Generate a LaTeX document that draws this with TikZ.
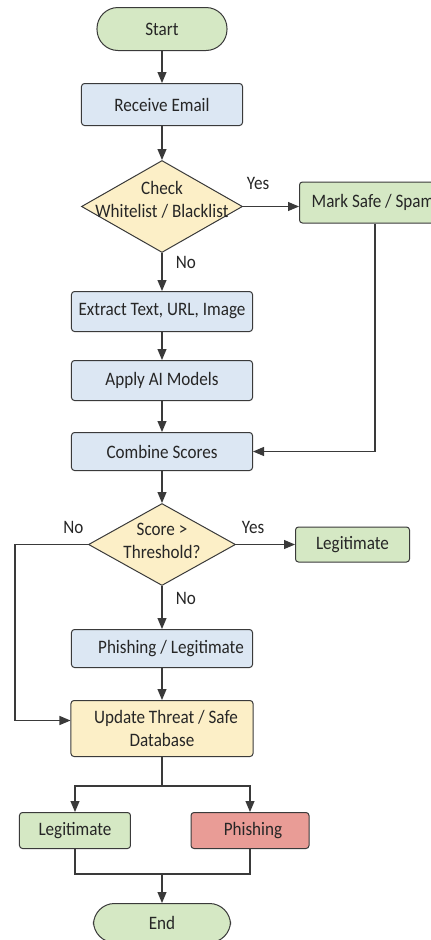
\documentclass[tikz,border=0pt]{standalone}
\usepackage{fontspec}
\setmainfont{Carlito}[FakeStretch=0.9]
\usetikzlibrary{positioning,shapes.geometric,arrows.meta}
\definecolor{termgreen}{HTML}{D5E8C4}
\definecolor{procblue}{HTML}{DCE7F3}
\definecolor{checkyellow}{HTML}{FCEFC7}
\definecolor{alertred}{HTML}{E99C96}
\definecolor{edgegray}{HTML}{3A3A3A}
\begin{document}
\begin{tikzpicture}[font=\fontsize{19}{23}\selectfont,
  box/.style={draw=edgegray, line width=1pt, rounded corners=3pt, minimum height=40pt, text=black!85, align=center},
  process/.style={box, fill=procblue, minimum width=181pt},
  result/.style={box, fill=termgreen},
  terminal/.style={box, fill=termgreen, rounded corners=21pt, minimum height=42pt},
  decision/.style={diamond, draw=edgegray, line width=1pt, fill=checkyellow, inner sep=0pt},
  flow/.style={draw=edgegray, line width=1.1pt, -{Triangle[length=11pt,width=9pt]}},
  link/.style={draw=edgegray, line width=1.1pt},
  tag/.style={text=black!85}]
\useasboundingbox (-162pt,29pt) rectangle (269pt,-911pt);
\node (start) [terminal, minimum width=130pt, minimum height=43pt] at (0,0) {Start};
\node (rcv) [process, minimum width=161pt, minimum height=42pt, below=32pt of start] {Receive Email};
\node (chk) [decision, minimum width=161pt, minimum height=92pt, below=34pt of rcv] {};
\node (chkt) [tag, align=center] at ([yshift=7pt]chk.center) {Check\\Whitelist / Blacklist};
\node (ms) [result, minimum width=151pt, minimum height=41pt, right=56pt of chk, yshift=4pt] {Mark Safe / Spam\hspace*{4pt}};
\node (ext) [process, below=38pt of chk] {Extract Text, URL, Image};
\node (app) [process, below=28pt of ext] {Apply AI Models};
\node (cmb) [process, minimum height=38pt, below=31pt of app] {Combine Scores};
\node (thr) [decision, minimum width=147pt, minimum height=82pt, below=32pt of cmb] {};
\node (thrt) [tag, align=center] at ([yshift=4pt]thr.center) {Score >\\Threshold?};
\node (lg1) [result, minimum width=114pt, minimum height=35pt, right=59pt of thr] {Legitimate};
\node (phl) [process, minimum height=38pt, below=43pt of thr] {\hspace*{18pt}Phishing / Legitimate};
\node (upd) [box, fill=checkyellow, minimum width=182pt, minimum height=56pt, below=32pt of phl] {\hspace*{8pt}Update Threat / Safe\\Database};
\node (lg2) [result, minimum width=111pt, minimum height=36pt, below=55pt of upd, xshift=-87pt] {Legitimate};
\node (phi) [box, fill=alertred, minimum width=118pt, minimum height=36pt, below=55pt of upd, xshift=88pt] {\hspace*{6pt}Phishing};
\node (end) [terminal, minimum width=137pt, minimum height=39pt, below=146pt of upd] {End};
\coordinate [below=29pt of upd] (split);
\coordinate [above=29pt of end] (join);
% main column
\draw[flow] (start) -- (rcv);
\draw[flow] (rcv) -- (chk);
\draw[flow] (chk) -- node[tag, pos=0.26, right=10pt] {No} (ext);
\draw[flow] (chk.east) -- node[tag, pos=0.27, above=13pt] {Yes} (chk.east -| ms.west);
\draw[flow] (ms.south) |- (cmb.east);
\draw[flow] (ext) -- (app);
\draw[flow] (app) -- (cmb);
\draw[flow] (cmb) -- (thr);
\draw[flow] (thr.east) -- node[tag, pos=0.29, above=7pt] {Yes} (lg1);
\draw[flow] (thr) -- node[tag, pos=0.3, right=10pt] {No} (phl);
\draw[flow] (thr.west) -- node[tag, pos=0.2, above=7pt] {No} ++(-73pt,0) |- ([yshift=8pt]upd.west);
\draw[flow] (phl) -- (upd);
% split and join
\draw[link] (upd) -- (split);
\draw[flow] (split) -| (lg2);
\draw[flow] (split) -| (phi);
\draw[link] (lg2) |- (join);
\draw[link] (phi) |- (join);
\draw[flow] (join) -- (end);
\end{tikzpicture}
\end{document}
